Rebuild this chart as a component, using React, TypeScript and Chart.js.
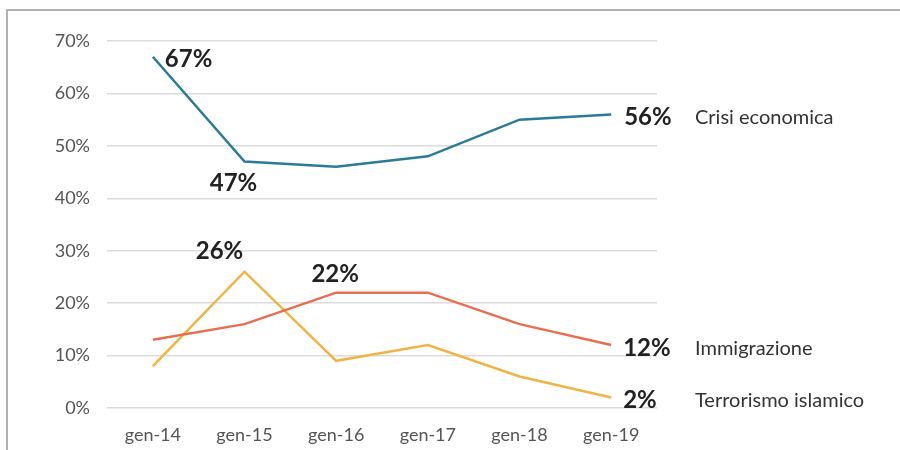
import React, { useEffect, useRef } from "react";
import { Chart, registerables } from "chart.js";

Chart.register(...registerables);

const categories = ["gen-14", "gen-15", "gen-16", "gen-17", "gen-18", "gen-19"];
const seriesNames = ["Crisi economica", "Immigrazione", "Terrorismo islamico"];
const crisiEconomica = [67, 47, 46, 48, 55, 56];
const immigrazione = [13, 16, 22, 22, 16, 12];
const terrorismo = [8, 26, 9, 12, 6, 2];
const yTicks = [0, 10, 20, 30, 40, 50, 60, 70];

const colors = ["#2b7b97", "#e86e4f", "#f0b444"];

// annotated points: [datasetIndex, pointIndex, dx, dy, align]
const pointLabels: [number, number, number, number, CanvasTextAlign][] = [
  [0, 0, 12, 3, "left"],
  [0, 1, -11, 22, "center"],
  [0, 5, 13, 3, "left"],
  [1, 2, -1, -18, "center"],
  [1, 5, 12, 3, "left"],
  [2, 1, -25, -20, "center"],
  [2, 5, 12, 3, "left"],
];

const FONT = "Lato, 'Open Sans', sans-serif";

const annotationPlugin = {
  id: "annotations",
  beforeDraw(chart: any) {
    const ctx = chart.ctx;
    ctx.save();
    ctx.strokeStyle = "#9a9a9a";
    ctx.lineWidth = 1.5;
    ctx.beginPath();
    ctx.moveTo(7, 450);
    ctx.lineTo(7, 10);
    ctx.lineTo(900, 10);
    ctx.stroke();
    ctx.restore();
  },
  afterDatasetsDraw(chart: any) {
    const ctx = chart.ctx;
    const xs = chart.scales.x;
    const ys = chart.scales.y;
    ctx.save();
    ctx.textBaseline = "middle";
    ctx.fillStyle = "#222";
    ctx.font = `bold 24px ${FONT}`;
    pointLabels.forEach(([di, pi, dx, dy, align]) => {
      const v = chart.data.datasets[di].data[pi];
      const x = xs.getPixelForValue(pi) + dx;
      const y = ys.getPixelForValue(v) + dy;
      ctx.textAlign = align;
      ctx.fillText(`${v}%`, x, y);
    });
    ctx.font = `20px ${FONT}`;
    ctx.fillStyle = "#333";
    ctx.textAlign = "left";
    chart.data.datasets.forEach((ds: any, di: number) => {
      const last = ds.data.length - 1;
      const y = ys.getPixelForValue(ds.data[last]) + 3;
      ctx.fillText(seriesNames[di], 695, y);
    });
    ctx.restore();
  },
};

export default function App() {
  const ref = useRef<HTMLCanvasElement>(null);
  useEffect(() => {
    document.body.style.margin = "0";
    const chart = new Chart(ref.current!, {
      type: "line",
      data: {
        labels: categories,
        datasets: [crisiEconomica, immigrazione, terrorismo].map((d, i) => ({
          label: seriesNames[i],
          data: d,
          borderColor: colors[i],
          backgroundColor: colors[i],
          borderWidth: 2.5,
          pointRadius: 0,
          tension: 0,
        })),
      },
      options: {
        animation: false,
        responsive: false,
        layout: { padding: { left: 0, right: 243, top: 41, bottom: 0 } },
        plugins: { legend: { display: false }, tooltip: { enabled: false } },
        scales: {
          x: {
            offset: true,
            grid: { display: false },
            border: { display: false },
            ticks: { color: "#555", font: { family: FONT, size: 18 }, padding: 8 },
            afterFit: (a: any) => { a.height = 42; },
          },
          y: {
            min: 0,
            max: 70,
            afterBuildTicks: (a: any) => { a.ticks = yTicks.map((v) => ({ value: v })); },
            grid: { color: "#dcdcdc", lineWidth: 1.5, drawTicks: false },
            border: { display: false },
            ticks: {
              color: "#555",
              font: { family: FONT, size: 18 },
              padding: 17,
              callback: (v: any) => `${v}%`,
            },
            afterFit: (a: any) => { a.width = 107; },
          },
        },
      },
      plugins: [annotationPlugin],
    });
    return () => chart.destroy();
  }, []);
  return <canvas ref={ref} width={900} height={450} style={{ display: "block" }} />;
}
